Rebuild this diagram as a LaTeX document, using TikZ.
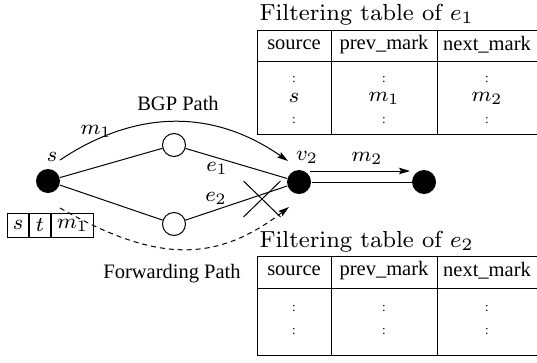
\documentclass[tikz,border=0pt]{standalone}
\usepackage{fontspec}
\newfontfamily\tms{Liberation Serif}
\usetikzlibrary{arrows.meta,shapes.misc}
\newcommand{\mth}[1]{\scalebox{2.65}{\fontsize{8}{9}\selectfont$#1$}}
\newcommand{\ttltext}[1]{\scalebox{2.9}{\fontencoding{OT1}\fontfamily{cmr}\fontsize{8}{9}\selectfont Filtering table of $e_{#1}$}}
\tikzset{
  blk/.style={circle, fill=black, minimum size=24pt, inner sep=0pt},
  wht/.style={circle, draw, fill=white, minimum size=23pt, inner sep=0pt},
  lbl/.style={inner sep=0pt},
  txt/.style={inner sep=0pt, font=\tms\fontsize{20.5}{24}\selectfont},
  dts/.style={inner sep=0pt, font=\tms\fontsize{13}{15}\selectfont},
  ttl/.style={inner sep=0pt, anchor=base west},
  cell/.style={draw, minimum height=24pt, inner sep=0pt, anchor=west},
  tip/.style={-{Stealth[length=11pt,width=6.5pt,inset=2pt]}},
}
\begin{document}
\begin{tikzpicture}[x=1pt,y=-1pt,line width=1pt]
\useasboundingbox (0,0) rectangle (537,362);
% nodes
\node[blk] (s) at (48,181) {};
\node[wht] (u1) at (174,145) {};
\node[wht] (u2) at (174,224) {};
\node[blk] (v2) at (299,182) {};
\node[blk] (t) at (424,182) {};
% edges
\draw (s) -- (u1);
\draw (u1) -- (v2);
\draw (s) -- (u2);
\draw (u2) -- (v2);
\draw (v2) -- (t);
% labels
\node[lbl] (ls) at (52,157) {\mth{s}};
\node[lbl] (lm1) at (96,131) {\mth{m_1}};
\node[lbl] (le1) at (217,168) {\mth{e_1}};
\node[lbl] (le2) at (216,198) {\mth{e_2}};
\node[lbl] (lv2) at (307,157) {\mth{v_2}};
\node[lbl] (lm2) at (367,158) {\mth{m_2}};
\node[txt] (bgp) at (178,103) {BGP Path};
\node[txt] (fwd) at (172,274) {Forwarding Path};
% BGP path
\coordinate (b0) at (60,160);
\coordinate (b1) at (288,161);
\draw[tip] (b0) .. controls (135,110) and (212,108) .. (b1);
% forwarding path
\coordinate (f0) at (60,208);
\coordinate (f1) at (289,207);
\draw[tip, dashed, dash pattern=on 5pt off 4pt] (f0) .. controls (155,262) and (215,264) .. (f1);
% m2 arrow
\coordinate (a0) at (310,171);
\coordinate (a1) at (410,171);
\draw[tip] (a0) -- (a1);
% cross
\node[cross out, draw, minimum width=36pt, minimum height=35pt, inner sep=0pt] (x) at (262,199) {};
% packet
\node[cell, minimum width=21pt] (c1) at (7,225) {\mth{s}};
\node[cell, minimum width=21pt] (c2) at (c1.east) {\mth{t}};
\node[cell, minimum width=42pt] (c3) at (c2.east) {\mth{m_1}};
% table 1
\node[ttl] (t1) at (259,20) {\ttltext{1}};
\draw (257,30) rectangle (545,134);
\draw (257,61) -- (545,61);
\draw (331,30) -- (331,134);
\draw (437,30) -- (437,134);
\node[txt] at (294,45) {source};
\node[txt] at (384,45) {prev\_mark};
\node[txt] at (487,45) {next\_mark};
\foreach \x in {294,384,487} {
  \node[dts] at (\x,80) {:};
  \node[dts] at (\x,121) {:};
}
\node[lbl] at (294,98) {\mth{s}};
\node[lbl] at (384,98) {\mth{m_1}};
\node[lbl] at (487,98) {\mth{m_2}};
% table 2
\node[ttl] (t2) at (259,247) {\ttltext{2}};
\draw (257,256) rectangle (545,355);
\draw (257,288) -- (545,288);
\draw (331,256) -- (331,355);
\draw (437,256) -- (437,355);
\node[txt] at (294,271) {source};
\node[txt] at (384,271) {prev\_mark};
\node[txt] at (487,271) {next\_mark};
\foreach \x in {294,384,487} {
  \node[dts] at (\x,309) {:};
  \node[dts] at (\x,332) {:};
}
\end{tikzpicture}
\end{document}
